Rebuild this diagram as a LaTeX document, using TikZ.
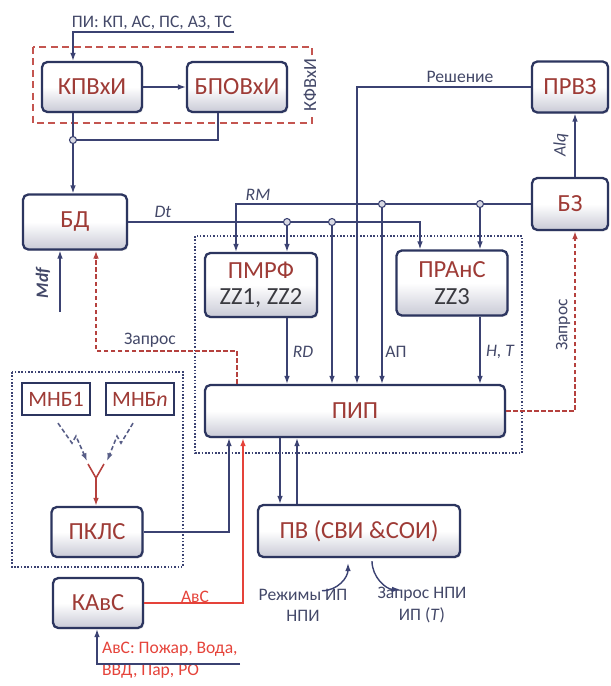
\documentclass[tikz,border=0pt]{standalone}
\usepackage{fontspec}
\setmainfont{Carlito}
\usepackage{tikz}
\usetikzlibrary{arrows.meta,positioning,calc,shadows}
\definecolor{lnBlue}{HTML}{3B4272}
\definecolor{bxEdge}{HTML}{2C355F}
\definecolor{bxText}{HTML}{9E3B36}
\definecolor{bxShade}{HTML}{C9CAD6}
\definecolor{zzGray}{HTML}{3A3A40}
\definecolor{lbGray}{HTML}{434868}
\definecolor{avRed}{HTML}{E5433A}
\definecolor{rqRed}{HTML}{B5413E}
\definecolor{kfRed}{HTML}{C45550}

\begin{document}
\begin{tikzpicture}[
  x=0.02cm, y=-0.02cm,
  font=\fontsize{10}{12}\selectfont,
  >={Latex[length=4.5pt,width=3.2pt]},
  blk/.style={draw=bxEdge, line width=1.3pt, rounded corners=3pt,
    top color=white, bottom color=bxShade, middle color=white,
    drop shadow={opacity=0.2, shadow xshift=0.8pt, shadow yshift=-0.8pt},
    text=bxText, font=\fontsize{14}{15}\selectfont, align=center, inner sep=2pt},
  mnb/.style={draw=bxEdge, line width=1.3pt, fill=white, text=bxText,
    font=\fontsize{12.5}{14}\selectfont, minimum width=1.36cm, minimum height=0.64cm, inner sep=1pt},
  ln/.style={draw=lnBlue, line width=0.8pt},
  req/.style={draw=rqRed, line width=0.9pt, dash pattern=on 2.5pt off 1.5pt},
  avs/.style={draw=avRed, line width=1.4pt},
  grp/.style={draw=lnBlue, line width=0.9pt, densely dotted},
  kfv/.style={draw=kfRed, line width=1pt, dash pattern=on 4pt off 2.5pt},
  radio/.style={draw=lnBlue!85, line width=0.9pt, dash pattern=on 2.5pt off 1.5pt},
  ant/.style={draw=rqRed, line width=0.9pt},
  jn/.style={circle, draw=lnBlue, fill=lnBlue!20, line width=0.6pt, inner sep=0pt, minimum size=4pt},
  lbl/.style={text=lbGray, inner sep=1pt},
  ital/.style={text=lbGray, inner sep=1pt, font=\fontsize{10}{12}\selectfont\itshape},
]
\useasboundingbox (0,0) rectangle (611,686);

% group frames
\draw[kfv] (33,47) rectangle (312,123);
\draw[grp] (195,236) rectangle (522,453);
\draw[grp] (12,372) rectangle (183,567);
\node[lbl, rotate=90, fill=white, font=\fontsize{10.5}{12}\selectfont] (kfvlbl) at (310,85) {КФВхИ};

% blocks
\node[blk, minimum width=2cm, minimum height=1cm] (kpv) at (92,87) {КПВхИ};
\node[blk, minimum width=2cm, minimum height=1cm] (bpov) at (237,87) {БПОВхИ};
\node[blk, minimum width=2.08cm, minimum height=1.1cm] (bd) at (75,222) {БД};
\node[blk, minimum width=1.52cm, minimum height=1.02cm] (prvz) at (570,87) {ПРВЗ};
\node[blk, minimum width=1.52cm, minimum height=1.04cm] (bz) at (570,204) {БЗ};
\node[blk, minimum width=2.24cm, minimum height=1.28cm] (pmrf) at (261,285) {ПМРФ\\\textcolor{zzGray}{ZZ1, ZZ2}};
\node[blk, minimum width=2.22cm, minimum height=1.3cm] (prans) at (452,283) {ПРАнС\\\textcolor{zzGray}{ZZ3}};
\node[blk, minimum width=6cm, minimum height=1.04cm] (pip) at (355,411) {ПИП};
\node[blk, minimum width=1.82cm, minimum height=1cm] (pklc) at (97,532) {ПКЛС};
\node[blk, minimum width=1.8cm, minimum height=1cm] (kavs) at (98,603) {КАвС};
\node[blk, minimum width=4.04cm, minimum height=1.04cm] (pv) at (359,531) {ПВ (СВИ \&СОИ)};
\node[mnb] (mnb1) at (56,399) {МНБ1};
\node[mnb] (mnbn) at (140,399) {МНБ\textit{n}};

% texts
\node[lbl] (pi) at (152,23) {ПИ: КП, АС, ПС, АЗ, ТС};
\node[lbl] (resh) at (460,77) {Решение};
\node[ital] (dt) at (163,212) {Dt};
\node[ital] (rm) at (258,195) {RM};
\node[ital] (rd) at (303,352) {RD};
\node[lbl] (ap) at (396,352) {АП};
\node[ital] (ht) at (500,352) {H, T};
\node[ital, rotate=90] (alq) at (561,145) {Alq};
\node[ital, rotate=90] (mdflbl) at (43,283) {\bfseries Mdf};
\node[lbl] (zq1) at (150,340) {Запрос};
\node[lbl, rotate=90] (zq2) at (563,325) {Запрос};
\node[text=avRed, inner sep=1pt] (avslbl) at (195,597) {АвС};
\node[text=avRed, inner sep=1pt, align=left, anchor=north west, font=\fontsize{10}{12.5}\selectfont] (avsin) at (100,640) {АвС: Пожар, Вода,\\ВВД, Пар, РО};
\node[lbl, align=center] (rezh) at (303,605) {Режимы ИП\\НПИ};
\node[lbl, align=center] (zapr) at (422,605) {Запрос НПИ\\ИП (\textit{T})};

% junctions and free ends
\coordinate (j1) at (73,140);
\coordinate (j2) at (287,222);
\coordinate (j3) at (332,222);
\coordinate (j4) at (382,204);
\coordinate (j5) at (480,204);
\coordinate (mdf) at (60,312);
\coordinate (avsend) at (240,664);
\coordinate (antc) at (96,478);

% top part
\draw[ln,->] (pi.south east) -| ($(kpv.north)+(-19,0)$);
\draw[ln,->] (kpv) -- (bpov);
\draw[ln] ($(kpv.south)+(-19,0)$) -- (j1);
\draw[ln] ($(bpov.south)+(-19,0)$) |- (j1);
\draw[ln,->] (j1) -- (bd.north -| j1);
\draw[ln,->] (mdf) -- (bd.south -| mdf);
\draw[ln,->] (bd.east) -| ($(prans.north)+(-32,0)$);
\draw[ln,->] (bz.west) -| ($(pmrf.north)+(-25,0)$);
\draw[ln,->] (j2) -- (pmrf.north -| j2);
\draw[ln,->] (j3) -- (pip.north -| j3);
\draw[ln,->] (j4) -- (pip.north -| j4);
\draw[ln,->] (j5) -- (prans.north -| j5);
\draw[ln,->] (prvz.west) -| ($(pip.north)+(2,0)$);
\draw[ln,->] ($(bz.north)+(5,0)$) -- ($(prvz.south)+(5,0)$);
\draw[ln,->] (pmrf.south -| j2) -- (pip.north -| j2);
\draw[ln,->] (prans.south -| j5) -- (pip.north -| j5);

% requests
\draw[req,->] ($(pip.north)+(-118,0)$) -- ++(0,-33) -| ($(bd.south)+(21,0)$);
\draw[req,->] (pip.east) -| ($(bz.south)+(5,0)$);

% radio part
\draw[radio,->] ($(mnb1.south)+(2,7)$) -- ++(14,20) -- ++(4,-7) -- ++(11,25);
\draw[radio,->] ($(mnbn.south)+(-7,7)$) -- ++(-12,20) -- ++(-4,-7) -- ++(-10,25);
\draw[ant] (antc) -- ++(-8,-14) (antc) -- ++(8,-14);
\draw[ant,->] (antc) -- (pklc.north -| antc);

% bottom part
\draw[ln,->] (pklc.east) -| ($(pip.south)+(-126,0)$);
\draw[avs,->] (kavs.east) -| ($(pip.south)+(-112,0)$);
\draw[ln,->] (avsend) -| ($(kavs.south)+(-1,0)$);
\draw[ln,->] ($(pip.south)+(-75,0)$) -- ($(pv.north)+(-79,0)$);
\draw[ln,->] ($(pv.north)+(-62,0)$) -- ($(pip.south)+(-58,0)$);
\draw[ln,->] ($(rezh.north)+(19,4)$) .. controls +(16,0) and +(0,14) .. ($(pv.south)+(-11,5)$);
\draw[ln,->] ($(pv.south)+(13,3)$) .. controls +(0,16) and +(-14,0) .. ($(zapr.north)+(-22,4)$);

% junction dots
\foreach \j in {j1,j2,j3,j4,j5}
  \node[jn] at (\j) {};
\end{tikzpicture}
\end{document}
